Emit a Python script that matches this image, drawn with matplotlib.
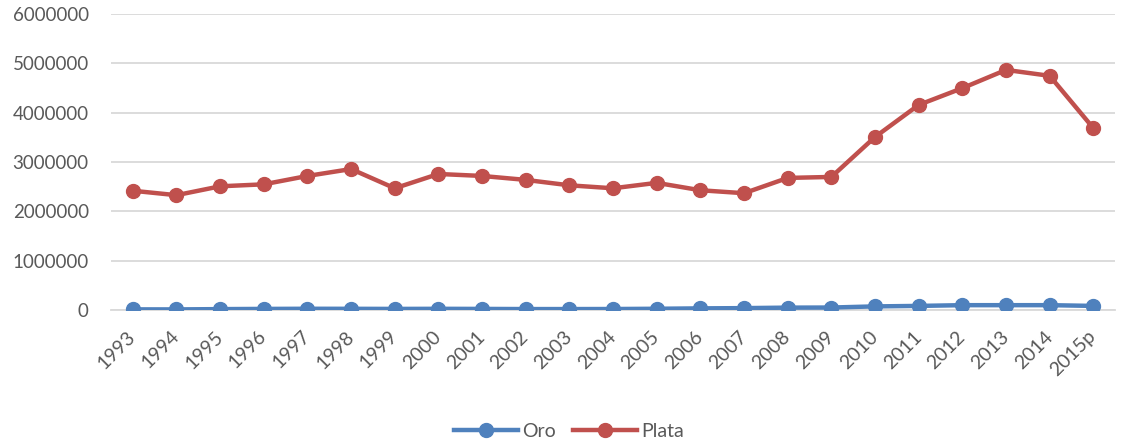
import matplotlib.pyplot as plt

# Produccion de oro y plata, 1993-2015p
years = ["1993", "1994", "1995", "1996", "1997", "1998", "1999", "2000",
         "2001", "2002", "2003", "2004", "2005", "2006", "2007", "2008",
         "2009", "2010", "2011", "2012", "2013", "2014", "2015p"]
oro = [15000, 14000, 20000, 24000, 27000, 26000, 24000, 26000,
       24000, 21000, 21000, 22000, 27000, 35000, 40000, 50000,
       52000, 75000, 85000, 100000, 100000, 100000, 85000]
plata = [2420000, 2330000, 2510000, 2550000, 2720000, 2860000, 2470000, 2760000,
         2720000, 2640000, 2530000, 2470000, 2580000, 2430000, 2370000, 2680000,
         2700000, 3510000, 4160000, 4500000, 4870000, 4750000, 3690000]
yticks = [0, 1000000, 2000000, 3000000, 4000000, 5000000, 6000000]

plt.rcParams['font.family'] = ['Lato', 'DejaVu Sans']
txt = '#595959'

fig = plt.figure(figsize=(11.22, 4.43), dpi=100)
ax = fig.add_axes([0.0989, 0.300, 0.895, 0.668])

x = range(len(years))
ax.plot(x, oro, color='#4F81BD', lw=3.2, marker='o', ms=10, label='Oro',
        solid_joinstyle='round', zorder=3)
ax.plot(x, plata, color='#C0504D', lw=3.2, marker='o', ms=10, label='Plata',
        solid_joinstyle='round', zorder=3)

ax.set_xlim(-0.5, len(years) - 0.5)
ax.set_ylim(0, 6000000)
ax.set_yticks(yticks)
ax.set_yticklabels([str(v) for v in yticks])
ax.yaxis.grid(True, color='#D9D9D9', lw=1.3)
ax.set_axisbelow(True)
for s in ['top', 'right', 'left']:
    ax.spines[s].set_visible(False)
ax.spines['bottom'].set_color('#D9D9D9')
ax.spines['bottom'].set_linewidth(1.3)
ax.tick_params(axis='y', length=0, pad=16, labelsize=13.5, labelcolor=txt)
ax.tick_params(axis='x', length=0, pad=17, labelsize=14, labelcolor=txt)

ax.set_xticks(list(x))
ax.set_xticklabels(years, rotation=45, ha='right', va='center',
                   rotation_mode='anchor')

leg = fig.legend(loc='lower center', bbox_to_anchor=(0.507, -0.032), ncol=2,
                 frameon=False, fontsize=14, handlelength=3.3,
                 columnspacing=0.9, handletextpad=0.2)
for t in leg.get_texts():
    t.set_color(txt)

fig.savefig('out.png', dpi=100)
